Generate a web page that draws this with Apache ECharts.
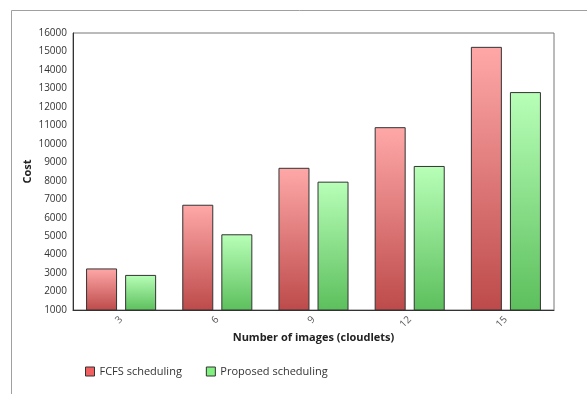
<!DOCTYPE html>
<html>
<head>
<meta charset="utf-8">
<script src="https://cdn.jsdelivr.net/npm/echarts@6/dist/echarts.min.js"></script>
<style>
  html, body { margin: 0; padding: 0; background: #fff; }
  #chart { width: 587px; height: 394px; }
</style>
</head>
<body>
<div id="chart"></div>
<script>
// data
const categories = ['3', '6', '9', '12', '15'];
const fcfsCost = [3250, 6700, 8700, 10900, 15250];
const proposedCost = [2900, 5100, 7950, 8800, 12800];
const yTicks = { min: 1000, max: 16000, step: 1000 };

const font = '"Open Sans", "Noto Sans", sans-serif';

const grad = (top, bottom) => new echarts.graphic.LinearGradient(0, 0, 0, 1, [
    { offset: 0, color: top },
    { offset: 1, color: bottom }
]);

const chart = echarts.init(document.getElementById('chart'));
chart.setOption({
    animation: false,
    backgroundColor: '#fff',
    textStyle: { fontFamily: font },
    graphic: [{
        type: 'polyline',
        shape: { points: [[11.5, 394], [11.5, 10.5], [587, 10.5]] },
        style: { stroke: '#a0a0a0', lineWidth: 1, fill: null }
    }],
    grid: {
        left: 73, top: 33, right: 33, bottom: 84,
        show: true, borderColor: '#777', borderWidth: 1
    },
    legend: {
        top: 361, left: 80,
        icon: 'rect',
        itemWidth: 9, itemHeight: 9, itemGap: 24,
        textStyle: { fontFamily: font, fontSize: 11, color: '#333' },
        data: [
            { name: 'FCFS scheduling', itemStyle: { color: '#f06060', borderColor: '#333', borderWidth: 1 } },
            { name: 'Proposed scheduling', itemStyle: { color: '#80f080', borderColor: '#333', borderWidth: 1 } }
        ]
    },
    xAxis: {
        type: 'category',
        data: categories,
        name: 'Number of images (cloudlets)',
        nameLocation: 'middle',
        nameMoveOverlap: false,
        nameGap: 22,
        nameTextStyle: { fontFamily: font, fontSize: 11, fontWeight: 'bold', color: '#222' },
        axisLine: { lineStyle: { color: '#333' } },
        axisTick: { show: false },
        axisLabel: { rotate: 45, fontSize: 10, color: '#555', margin: 8 }
    },
    yAxis: {
        type: 'value',
        min: yTicks.min, max: yTicks.max, interval: yTicks.step,
        name: 'Cost',
        nameLocation: 'middle',
        nameMoveOverlap: false,
        nameGap: 40,
        nameTextStyle: { fontFamily: font, fontSize: 11, fontWeight: 'bold', color: '#222' },
        axisLine: { show: true, lineStyle: { color: '#333' } },
        axisTick: { show: false },
        splitLine: { show: false },
        axisLabel: { fontSize: 10, color: '#333', margin: 6, formatter: v => String(v) }
    },
    series: [{
        name: 'FCFS scheduling',
        type: 'bar',
        data: fcfsCost,
        barWidth: 31,
        barGap: '26%',
        itemStyle: { color: grad('#ffa8a8', '#bd4a4a'), borderColor: '#333', borderWidth: 1 }
    }, {
        name: 'Proposed scheduling',
        type: 'bar',
        data: proposedCost,
        barWidth: 31,
        itemStyle: { color: grad('#b8ffb8', '#5cbf5c'), borderColor: '#333', borderWidth: 1 }
    }]
});
</script>
</body>
</html>
